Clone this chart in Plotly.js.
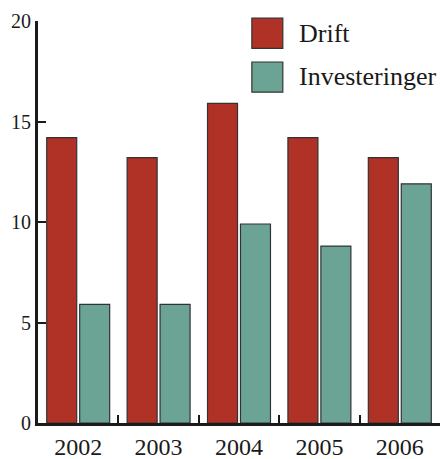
<!DOCTYPE html>
<html>
<head>
<meta charset="utf-8">
<script src="https://cdn.plot.ly/plotly-3.0.1.min.js"></script>
<style>html,body{margin:0;padding:0;background:#fff;}#chart{width:445px;height:459px;}</style>
</head>
<body>
<div id="chart"></div>
<script>
const years = ["2002", "2003", "2004", "2005", "2006"];
const drift = [14.2, 13.2, 15.9, 14.2, 13.2];
const investeringer = [5.9, 5.9, 9.9, 8.8, 11.9];
const seriesNames = ["Drift", "Investeringer"];
const yTicks = [0, 5, 10, 15, 20];

const red = "#B03226";
const teal = "#6BA495";
const outline = "#333333";
const ink = "#1a1a1a";
const serif = "'Liberation Serif', 'Times New Roman', Times, serif";

const traces = [
  {type: "bar", x: years, y: drift, name: seriesNames[0], marker: {color: red, line: {color: outline, width: 1.2}}, showlegend: false, hoverinfo: "none"},
  {type: "bar", x: years, y: investeringer, name: seriesNames[1], marker: {color: teal, line: {color: outline, width: 1.2}}, showlegend: false, hoverinfo: "none"}
];

const layout = {
  width: 445, height: 459,
  margin: {l: 38, r: 5, t: 21, b: 36, pad: 0},
  paper_bgcolor: "#fff", plot_bgcolor: "#fff",
  barmode: "group", bargap: 0.18, bargroupgap: 0.09,
  font: {family: serif, color: ink},
  xaxis: {
    type: "category", range: [-0.5, 4.5],
    showline: true, linecolor: ink, linewidth: 3,
    ticks: "inside", tickson: "boundaries", ticklen: 8, tickwidth: 2, tickcolor: ink,
    tickfont: {family: serif, size: 24, color: ink},
    showgrid: false, zeroline: false, fixedrange: true
  },
  yaxis: {
    range: [0, 20], tickvals: yTicks, ticktext: yTicks.map(String),
    showline: true, linecolor: ink, linewidth: 3,
    ticks: "inside", ticklen: 8, tickwidth: 2, tickcolor: ink,
    tickfont: {family: serif, size: 20, color: ink},
    showgrid: false, zeroline: false, fixedrange: true
  },
  shapes: [
    {type: "rect", xref: "paper", yref: "paper", x0: 0.532, x1: 0.609, y0: 0.932, y1: 1.007, fillcolor: red, line: {color: outline, width: 1.2}},
    {type: "rect", xref: "paper", yref: "paper", x0: 0.532, x1: 0.609, y0: 0.823, y1: 0.898, fillcolor: teal, line: {color: outline, width: 1.2}}
  ],
  annotations: [
    {xref: "paper", yref: "paper", x: 0.644, y: 0.970, xanchor: "left", yanchor: "middle", text: seriesNames[0], showarrow: false, font: {family: serif, size: 26, color: ink}},
    {xref: "paper", yref: "paper", x: 0.644, y: 0.861, xanchor: "left", yanchor: "middle", text: seriesNames[1], showarrow: false, font: {family: serif, size: 26, color: ink}}
  ]
};

Plotly.newPlot("chart", traces, layout, {displayModeBar: false, staticPlot: true});
</script>
</body>
</html>
